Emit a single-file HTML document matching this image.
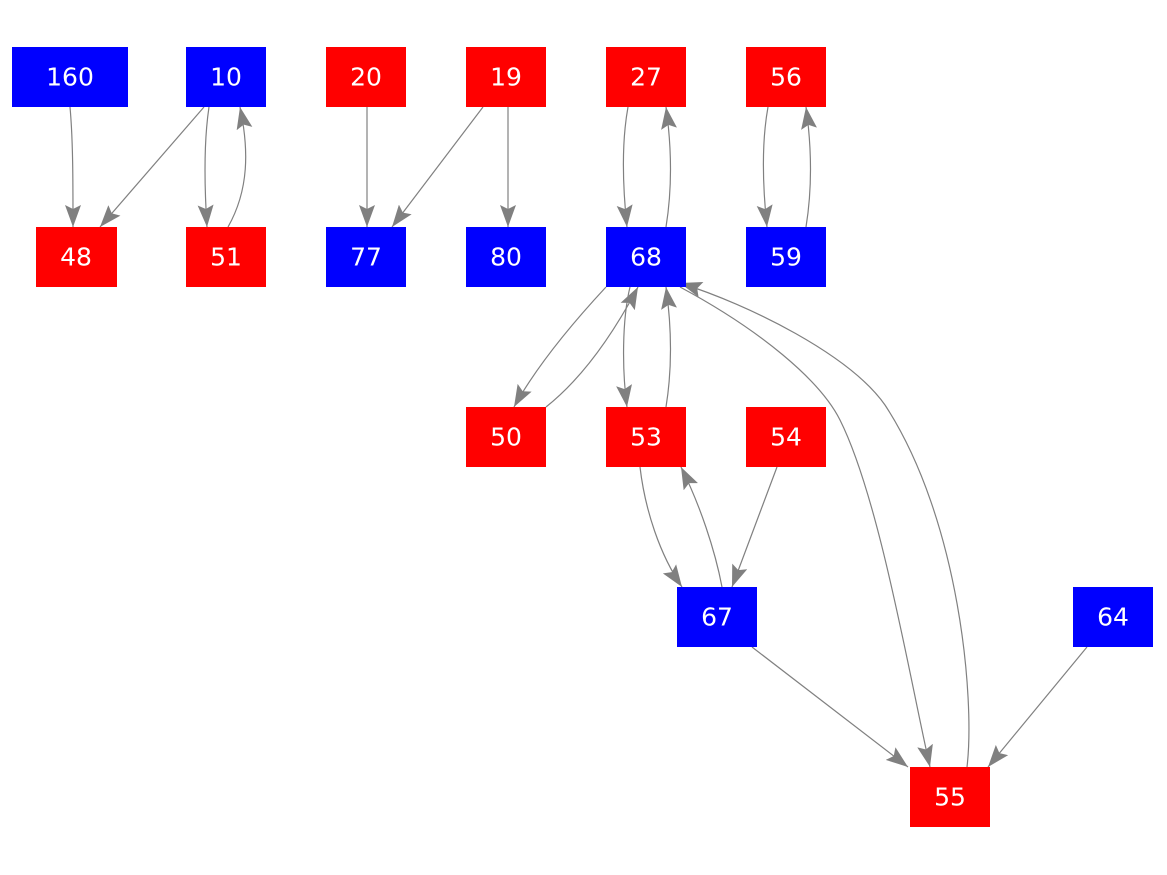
<!DOCTYPE html>
<html><head><meta charset="utf-8"><style>
html,body{margin:0;padding:0;background:#fff;}
svg{display:block;}
text{font-family:"DejaVu Sans","Liberation Sans",sans-serif;font-size:25px;fill:#fff;text-anchor:middle;dominant-baseline:central;}
</style></head><body>
<svg width="1167" height="875" viewBox="0 0 1167 875" xmlns="http://www.w3.org/2000/svg">
<defs>
<marker id="a" markerUnits="userSpaceOnUse" markerWidth="24" markerHeight="16" refX="22" refY="8" orient="auto">
<path d="M0,0 L22,8 L0,16 L4,8 Z" fill="#808080"/>
</marker>
</defs>
<g fill="none" stroke="#808080" stroke-width="1.2" marker-end="url(#a)">
<path d="M70,107 C73,140 73,180 73,227"/>
<path d="M204,107 L100,227"/>
<path d="M209,107 C204,140 204,180 207,227"/>
<path d="M228,227 C249,190 249,150 240,107"/>
<path d="M367,107 L367,227"/>
<path d="M483,107 L392,227"/>
<path d="M508,107 L508,227"/>
<path d="M628,107 C622,140 622,180 627,227"/>
<path d="M666,227 C672,190 672,150 666,107"/>
<path d="M768,107 C762,140 762,180 767,227"/>
<path d="M806,227 C812,190 812,150 806,107"/>
<path d="M606,287 C580,315 540,360 514,407"/>
<path d="M546,407 C580,380 610,340 638,287"/>
<path d="M630,287 C622,320 622,370 627,407"/>
<path d="M666,407 C672,370 672,330 666,287"/>
<path d="M680,287 C760,330 820,380 840,420 C880,500 910,680 930,767"/>
<path d="M967,767 C975,700 960,520 885,405 C850,355 750,305 680,283"/>
<path d="M640,467 C645,510 660,555 682,587"/>
<path d="M722,587 C715,550 700,505 681,467"/>
<path d="M777,467 L732,587"/>
<path d="M752,647 L908,767"/>
<path d="M1087,647 L988,767"/>
</g>
<g>
<rect x="12" y="47" width="116" height="60" fill="#0000ff"/><text x="70" y="77">160</text>
<rect x="186" y="47" width="80" height="60" fill="#0000ff"/><text x="226" y="77">10</text>
<rect x="326" y="47" width="80" height="60" fill="#ff0000"/><text x="366" y="77">20</text>
<rect x="466" y="47" width="80" height="60" fill="#ff0000"/><text x="506" y="77">19</text>
<rect x="606" y="47" width="80" height="60" fill="#ff0000"/><text x="646" y="77">27</text>
<rect x="746" y="47" width="80" height="60" fill="#ff0000"/><text x="786" y="77">56</text>
<rect x="36" y="227" width="81" height="60" fill="#ff0000"/><text x="76" y="257">48</text>
<rect x="186" y="227" width="80" height="60" fill="#ff0000"/><text x="226" y="257">51</text>
<rect x="326" y="227" width="80" height="60" fill="#0000ff"/><text x="366" y="257">77</text>
<rect x="466" y="227" width="80" height="60" fill="#0000ff"/><text x="506" y="257">80</text>
<rect x="606" y="227" width="80" height="60" fill="#0000ff"/><text x="646" y="257">68</text>
<rect x="746" y="227" width="80" height="60" fill="#0000ff"/><text x="786" y="257">59</text>
<rect x="466" y="407" width="80" height="60" fill="#ff0000"/><text x="506" y="437">50</text>
<rect x="606" y="407" width="80" height="60" fill="#ff0000"/><text x="646" y="437">53</text>
<rect x="746" y="407" width="80" height="60" fill="#ff0000"/><text x="786" y="437">54</text>
<rect x="677" y="587" width="80" height="60" fill="#0000ff"/><text x="717" y="617">67</text>
<rect x="1073" y="587" width="80" height="60" fill="#0000ff"/><text x="1113" y="617">64</text>
<rect x="910" y="767" width="80" height="60" fill="#ff0000"/><text x="950" y="797">55</text>
</g>
</svg>
</body></html>
